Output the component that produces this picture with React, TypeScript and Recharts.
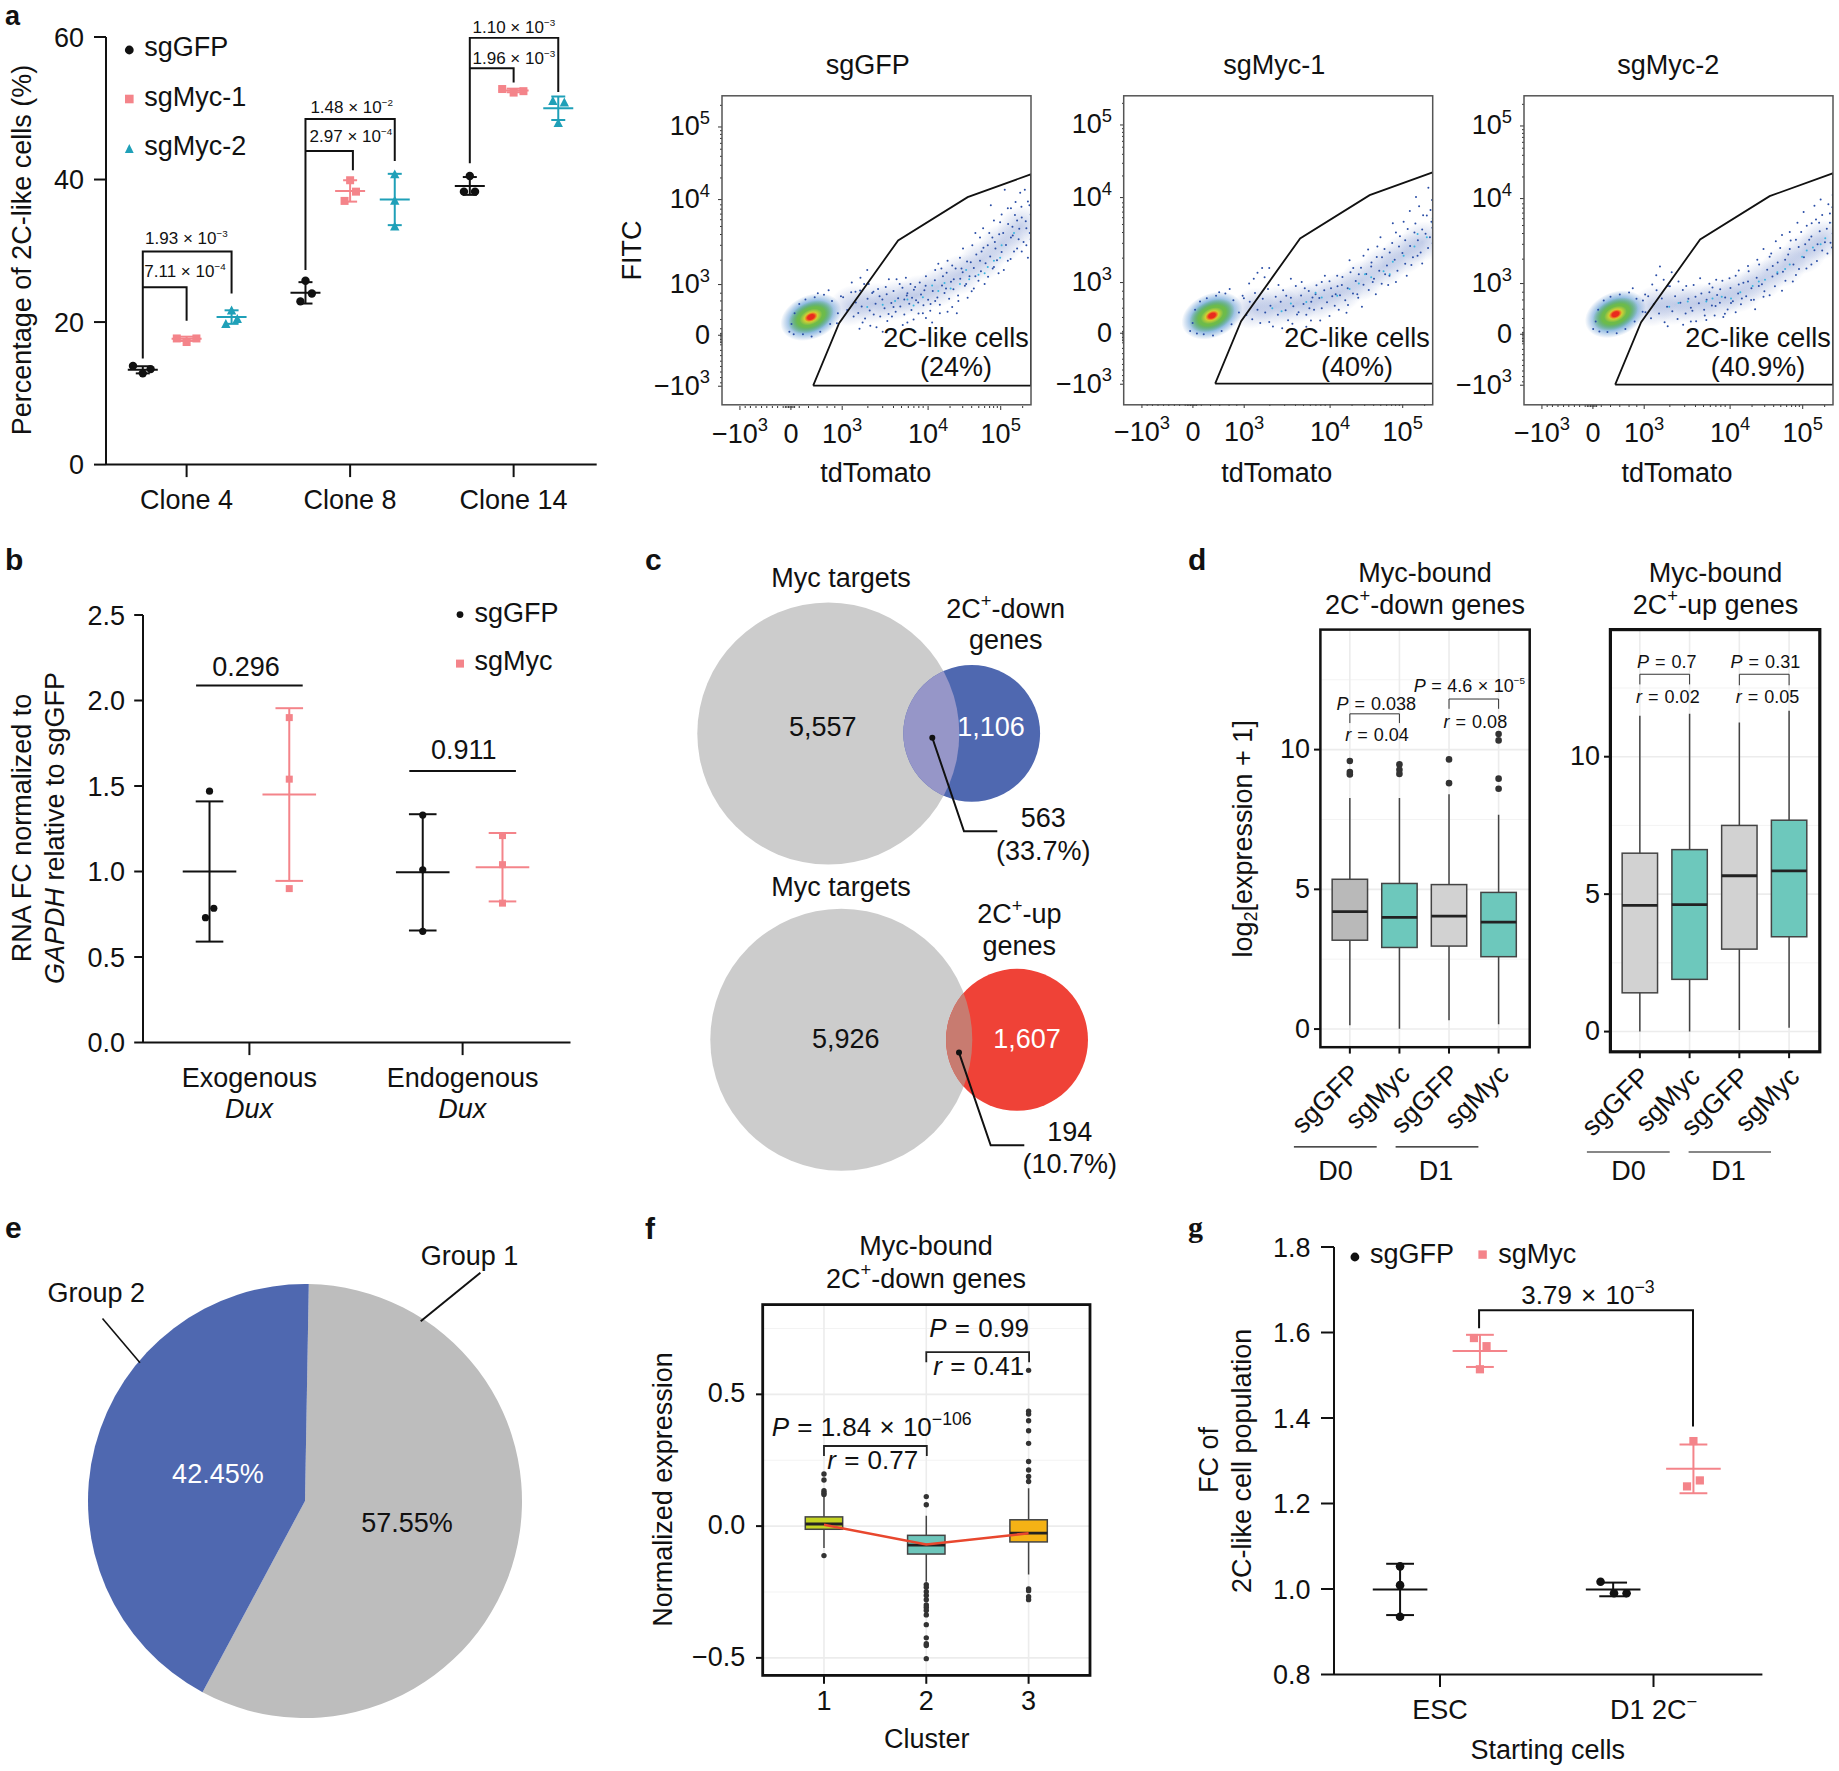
import React from 'react';
import { ScatterChart, Scatter, XAxis, YAxis, ErrorBar, CartesianGrid, PieChart, Pie, Cell } from 'recharts';

const FONT = '"Liberation Sans", Arial, sans-serif';
const INK = '#111';
const SALMON = '#f4848a';
const TEAL = '#1fa0b8';
const BOXTEAL = '#6dc8bc';
const FS = 27;

// ---------- panel a ----------
const cloneLabels = ['Clone 4', 'Clone 8', 'Clone 14'];
const aGfpPts = [[0.672,13.85],[0.78,13.4],[0.732,12.8],[1.727,25.8],[1.766,24.0],[1.696,22.9],[2.732,40.5],[2.696,38.3],[2.764,38.3]];
const aMyc1Pts = [[0.94,17.7],[1.06,17.7],[1.0,17.2],[2.0,39.9],[2.036,38.3],[1.966,37.0],[2.93,52.7],[3.0,52.2],[3.06,52.4]];
const aMyc2Pts = [[1.275,21.6],[1.31,20.4],[1.24,19.7],[2.273,40.7],[2.273,37.0],[2.273,33.4],[3.24,51],[3.31,50.8],[3.273,47.9]];
const aGfpMean = [[0.732,13.3,0.5],[1.727,24.1,1.5],[2.732,39.1,1.25]];
const aMyc1Mean = [[1,17.65,0.3],[2,38.4,1.5],[3,52.5,0.25]];
const aMyc2Mean = [[1.275,20.7,0.95],[2.273,37.2,3.6],[3.273,50,1.65]];
const aBrackets = [
  [[0.732,14.9],[0.732,29.9],[1.275,29.9],[1.275,24.0]],
  [[0.732,24.9],[1,24.9],[1,20.2]],
  [[1.727,27.3],[1.727,48.5],[2.273,48.5],[2.273,42.6]],
  [[1.727,44.0],[2.017,44.0],[2.017,41.3]],
  [[2.732,42.3],[2.732,59.9],[3.273,59.9],[3.273,52.3]],
  [[2.732,55.6],[3,55.6],[3,53.6]],
];

// ---------- panel b ----------
const bGroups = ['Exogenous', 'Endogenous'];
const bGfpPts = [[0.813,1.47],[0.833,0.785],[0.794,0.73],[1.813,1.33],[1.813,1.01],[1.813,0.65]];
const bMycPts = [[1.187,1.9],[1.187,1.54],[1.187,0.9],[2.187,1.21],[2.187,1.04],[2.187,0.815]];
const bGfpMean = [[0.813,1.0,0.41],[1.813,0.995,0.34]];
const bMycMean = [[1.187,1.45,0.505],[2.187,1.025,0.2]];
const bLines = [[[0.75,2.087],[1.25,2.087]],[[1.75,1.588],[2.25,1.588]]];

// ---------- panel g ----------
const gGfpPts = [[0.813,1.053],[0.813,1.009],[0.813,0.935],[1.752,1.017],[1.815,0.99],[1.874,0.99]];
const gMycPts = [[1.159,1.587],[1.218,1.568],[1.187,1.514],[2.187,1.346],[2.217,1.254],[2.157,1.24]];
const gGfpMean = [[0.813,0.999,0.06],[1.811,0.999,0.016]];
const gMycMean = [[1.187,1.557,0.0376],[2.187,1.281,0.057]];
const gBracket = [[1.183,1.61],[1.183,1.652],[2.185,1.652],[2.185,1.38]];

// ---------- panel f ----------
const fBoxes = [
  { x: 1, y: 0.008, q1: -0.012, q3: 0.035, lo: -0.083, hi: 0.11, fill: '#c4d322' },
  { x: 2, y: -0.072, q1: -0.106, q3: -0.035, lo: -0.211, hi: 0.039, fill: '#6dc6bb' },
  { x: 3, y: -0.027, q1: -0.06, q3: 0.024, lo: -0.184, hi: 0.144, fill: '#f5b215' },
];
const fOutliers = [[1,0.198],[1,0.175],[1,0.134],[1,0.127],[1,0.12],[1,-0.112],[2,0.112],[2,0.081],[2,-0.222],[2,-0.232],[2,-0.249],[2,-0.263],[2,-0.279],[2,-0.299],[2,-0.309],[2,-0.32],[2,-0.337],[2,-0.374],[2,-0.424],[2,-0.446],[2,-0.453],[2,-0.503],[3,0.591],[3,0.436],[3,0.425],[3,0.4],[3,0.362],[3,0.314],[3,0.245],[3,0.213],[3,0.188],[3,0.169],[3,-0.238],[3,-0.245],[3,-0.268],[3,-0.279]];
const fTrend = [[1,0.005],[2,-0.07],[3,-0.027]];
const fBrackets = [[[1,0.266],[1,0.304],[2.005,0.304],[2.005,0.266]],[[2,0.622],[2,0.66],[3.005,0.66],[3.005,0.622]]];

// ---------- panel d ----------
const dCats = ['sgGFP', 'sgMyc', 'sgGFP', 'sgMyc'];
const dDownBoxes = [
  { x: 1, y: 4.2, q1: 3.18, q3: 5.36, lo: 0.14, hi: 8.27, fill: '#b9b9b9' },
  { x: 2, y: 4.0, q1: 2.92, q3: 5.21, lo: 0.015, hi: 8.27, fill: BOXTEAL },
  { x: 3, y: 4.04, q1: 2.97, q3: 5.17, lo: 0.32, hi: 8.4, fill: '#d2d2d2' },
  { x: 4, y: 3.83, q1: 2.59, q3: 4.89, lo: 0.17, hi: 7.67, fill: BOXTEAL },
];
const dDownOut = [[1,9.59],[1,9.2],[1,9.11],[2,9.47],[2,9.28],[2,9.13],[3,9.65],[3,8.8],[4,10.56],[4,10.33],[4,8.96],[4,8.6]];
const dDownBr = [[[1,10.95],[1,11.28],[2,11.28],[2,10.95]],[[3,11.46],[3,11.81],[4,11.81],[4,11.46]]];
const dUpBoxes = [
  { x: 1, y: 4.59, q1: 1.41, q3: 6.49, lo: 0, hi: 11.49, fill: '#d2d2d2' },
  { x: 2, y: 4.62, q1: 1.9, q3: 6.62, lo: 0, hi: 11.56, fill: BOXTEAL },
  { x: 3, y: 5.67, q1: 3.0, q3: 7.5, lo: 0.06, hi: 11.24, fill: '#d2d2d2' },
  { x: 4, y: 5.85, q1: 3.45, q3: 7.69, lo: 0.14, hi: 11.67, fill: BOXTEAL },
];
const dUpBr = [[[1,12.63],[1,13],[2,13],[2,12.63]],[[3,12.6],[3,13],[4,13],[4,12.6]]];

// ---------- panel c ----------
const vennDown = [{ x: 188.3, y: 193.6, r: 131 }, { x: 331.7, y: 193.4, r: 68.4 }];
const vennUp = [{ x: 201.3, y: 499.8, r: 131 }, { x: 377, y: 499.8, r: 71 }];
const vennLeaders = [[[292.3,197.8],[324,291.2],[357.3,291.2]],[[319,512.6],[350.7,605.2],[384.3,605.2]]];

// ---------- panel e ----------
const pieData = [{ name: 'Group 1', value: 57.55 }, { name: 'Group 2', value: 42.45 }];
const pieColors = ['#bdbdbd', '#4f68b0'];

// ---------- flow plots ----------
const flowXMajor = [58, 223, 389, 667, 902];
const flowYMajor = [64, 229, 393, 668, 903];
const flowMajorLabels = ['3', '0', '3', '4', '5'];
const flowMinor = [75,92,110,128,145,163,180,198,205,210,215,220,226,230,235,250,280,310,340,365,472,520,555,581,603,621,637,651,738,779,808,831,850,866,879,891,973];
const flowGate = [[295,66],[379,268],[570,536],[795,676],[1000,750],[1000,66],[295,66]];

const flow1Dark = [[392,352],[405,311],[418,368],[426,290],[433,335],[441,301],[447,374],[452,322],[463,283],[471,347],[478,309],[486,366],[491,296],[497,331],[505,379],[512,290],[519,345],[526,316],[533,362],[539,298],[548,333],[555,372],[562,305],[570,349],[577,322],[584,383],[590,296],[598,358],[606,331],[613,311],[621,376],[628,342],[636,299],[644,361],[652,326],[659,389],[667,344],[674,308],[682,372],[689,407],[697,351],[705,328],[712,390],[720,366],[727,431],[735,347],[741,402],[749,378],[756,445],[764,358],[771,412],[779,433],[786,389],[793,468],[801,420],[808,371],[815,447],[823,490],[830,405],[838,436],[846,512],[853,462],[861,418],[868,484],[876,445],[883,531],[890,472],[897,556],[905,498],[912,440],[919,521],[926,589],[934,476],[941,552],[948,618],[955,510],[962,574],[969,645],[976,531],[983,598],[990,662],[996,560],[999,620],[999,540],[420,400],[432,370],[448,415],[460,395],[470,440],[225,265],[218,240],[235,300],[232,232],[250,330],[262,232],[270,345],[290,225],[300,352],[318,240],[330,360],[350,265],[356,340],[375,300],[385,355],[345,375],[310,365],[372,268],
[610,395],[455,270],[820,560],[705,300],[935,640],[540,410],[880,600],[660,285],[780,510],[500,255],[965,690],[745,320],[600,270],[850,395],[915,700],[475,395],[690,440],[795,350],[990,480],[565,410],[835,545],[730,470],[640,400],[905,620],[520,240],[760,300],[970,500],[680,270],[815,380],[585,262],[950,660],[445,250],[710,445],[870,650],[625,385],[985,575],[770,480],[550,290],[895,430],[660,420],[925,470],[490,370],[840,500],[730,305],[980,700],[595,415],[865,560],[700,460],[955,600],[535,275],[810,520],[650,300],[910,560],[765,340],[480,260],[945,500],[620,280],[885,510],[745,455],[575,395],[995,650],[835,470],[675,330],[925,640],[510,355],[790,395],[860,520],[600,365],[960,540],[715,420],[880,450],[635,335],[970,610],[555,320],[820,420],[750,410],[900,595],[690,340],[845,575],[530,385],[985,520],[775,445],[615,350],[940,580],[725,380],[655,375],[875,545],[805,465],[590,345],[935,545]];
const flow1Cyan = [[520,328],[600,345],[650,352],[700,372],[740,380],[770,395],[800,410],[830,425],[860,450],[880,470],[905,520],[945,560],[470,320],[560,340],[620,325],[680,390],[720,398],[790,440],[850,430],[900,480]];
const flow1Haze = [[420,325],[490,332],[560,342],[630,358],[700,385],[770,425],[840,470],[905,525],[965,580]];
const flow1Blob = [288, 288];

const flow2Dark = [[388,342],[396,288],[407,331],[415,274],[424,359],[432,305],[441,262],[449,341],[457,296],[466,372],[474,318],[482,251],[491,347],[498,289],[507,331],[515,368],[523,303],[531,271],[540,344],[548,316],[556,382],[565,297],[573,351],[581,324],[590,289],[598,366],[606,331],[615,305],[623,384],[632,343],[640,310],[648,368],[657,329],[665,397],[674,349],[682,318],[691,381],[699,352],[707,411],[716,336],[724,375],[733,426],[741,358],[750,398],[758,344],[767,441],[775,386],[784,421],[792,369],[801,458],[809,405],[818,476],[826,431],[834,389],[843,502],[851,448],[859,415],[868,521],[876,467],[885,431],[893,543],[901,489],[910,454],[918,566],[926,511],[935,475],[943,584],[951,530],[960,490],[968,611],[976,551],[984,505],[992,628],[998,570],[999,520],[997,660],[420,405],[432,425],[447,440],[405,390],[455,410],[470,440],[222,262],[214,236],[230,305],[236,228],[246,332],[258,226],[268,342],[288,222],[298,350],[316,236],[328,358],[348,258],[354,336],[372,296],[384,350],[342,372],[308,362],
[605,270],[742,440],[880,395],[512,245],[965,455],[690,415],[830,540],[575,395],[925,625],[770,315],[470,265],[995,590],[640,395],[855,385],[720,295],[540,405],[905,590],[790,500],[610,345],[945,670],[665,285],[815,355],[985,700],[500,385],[730,465],[870,585],[590,250],[950,480],[685,355],[835,475],[560,290],[915,415],[755,355],[635,270],[890,510],[980,610],[705,385],[800,445],[525,350],[860,490],[650,415],[940,555],[775,480],[585,375],[910,530],[725,320],[845,420],[620,355],[965,565],[695,305],[820,510],[545,260],[990,540],[760,420],[880,555],[670,375],[930,450],[805,395],[600,310],[955,640]];
const flow2Cyan = [[480,310],[540,325],[590,330],[640,345],[690,350],[730,372],[760,390],[800,410],[840,430],[870,460],[905,480],[940,510],[980,540],[999,585],[999,600],[510,300],[620,360],[780,420],[860,420],[950,550]];
const flow2Haze = [[420,310],[490,315],[560,325],[630,338],[700,362],[770,400],[840,445],[905,485],[965,525]];
const flow2Blob = [285, 286];

const flow3Dark = [[385,338],[393,300],[402,352],[411,281],[420,326],[429,371],[437,296],[446,345],[455,268],[463,318],[472,384],[480,303],[489,352],[497,278],[506,331],[514,372],[523,296],[532,344],[540,315],[549,388],[557,271],[566,329],[574,361],[583,308],[591,341],[600,392],[608,322],[617,290],[625,356],[634,331],[642,402],[651,348],[659,309],[668,379],[676,336],[685,418],[693,361],[702,326],[710,396],[719,352],[727,433],[736,378],[744,341],[753,412],[761,455],[770,391],[778,368],[787,438],[795,480],[804,416],[812,384],[821,461],[829,508],[838,431],[846,402],[855,487],[863,532],[872,455],[880,421],[889,511],[897,560],[906,478],[914,442],[923,535],[931,588],[940,501],[948,466],[957,562],[965,615],[974,527],[982,490],[990,590],[998,640],[999,555],[997,510],[999,680],[415,390],[428,420],[440,448],[452,405],[466,385],[478,430],[232,270],[224,246],[240,308],[244,238],[258,338],[270,236],[280,350],[300,232],[310,358],[328,246],[340,364],[358,270],[364,344],[384,302],[392,358],[352,378],
[622,405],[748,310],[885,590],[515,260],[960,665],[695,435],[835,370],[570,410],[930,455],[775,505],[465,255],[992,525],[645,285],[860,560],[725,450],[540,270],[905,625],[795,355],[610,380],[945,600],[665,410],[815,530],[985,650],[500,400],[735,340],[870,400],[590,275],[950,520],[685,300],[835,550],[555,350],[915,580],[755,470],[635,375],[890,440],[980,570],[705,345],[800,490],[525,385],[860,505],[650,295],[940,645],[775,350],[585,290],[910,520],[725,400],[845,470],[620,320],[965,500],[695,390],[820,425],[545,305],[990,620],[760,385],[880,535],[670,330],[930,545],[805,450],[600,365],[955,590]];
const flow3Cyan = [[470,318],[530,335],[590,335],[640,350],[700,365],[740,385],[780,405],[820,430],[860,455],[900,480],[935,510],[975,540],[999,590],[500,330],[610,345],[670,345],[760,400],[845,440],[915,500],[960,520]];
const flow3Haze = [[420,320],[490,325],[560,328],[630,342],[700,366],[770,405],[840,448],[905,490],[965,535]];
const flow3Blob = [296, 294];

// ---------- helpers ----------
const pts = (a: number[][]) => a.map(([x, y]) => ({ x, y }));
const means = (a: number[][]) => a.map(([x, y, e]) => ({ x, y, e }));
const NoDot = () => null;

const Circ = (r: number, fill: string) => (p: any) => <circle cx={p.cx} cy={p.cy} r={r} fill={fill} />;
const Sq = (s: number, fill: string) => (p: any) => <rect x={p.cx - s / 2} y={p.cy - s / 2} width={s} height={s} fill={fill} />;
const Tri = (s: number, fill: string) => (p: any) => (
  <path d={`M${p.cx} ${p.cy - s * 0.6}L${p.cx + s * 0.55} ${p.cy + s * 0.45}L${p.cx - s * 0.55} ${p.cy + s * 0.45}Z`} fill={fill} />
);
const HLine = (hw: number, color: string, sw = 2) => (p: any) => (
  <line x1={p.cx - hw} x2={p.cx + hw} y1={p.cy} y2={p.cy} stroke={color} strokeWidth={sw} />
);
const Poly = (key: string, a: number[][], color = INK, sw = 2) => (
  <Scatter key={key} data={pts(a)} shape={NoDot as any} line={{ stroke: color, strokeWidth: sw }} isAnimationActive={false} legendType="none" />
);
const MeanBar = (key: string, a: number[][], color: string, hw: number, cap: number, sw = 2) => (
  <Scatter key={key} data={means(a)} shape={HLine(hw, color, sw) as any} isAnimationActive={false} legendType="none">
    <ErrorBar dataKey="e" direction="y" width={cap} stroke={color} strokeWidth={sw} isAnimationActive={false} />
  </Scatter>
);

const xTick = (label: (v: number) => any, len: number, off: number, size = FS, sw = 2) => (p: any) => (
  <g>
    <line x1={p.x} x2={p.x} y1={p.y} y2={p.y + len} stroke={INK} strokeWidth={sw} />
    <text x={p.x} y={p.y + off} textAnchor="middle" fontSize={size} fontFamily={FONT} fill={INK}>{label(p.payload.value)}</text>
  </g>
);
const yTick = (label: (v: number) => any, len: number, gap: number, adj = 0, size = FS, sw = 2) => (p: any) => (
  <g>
    <line x1={p.x} x2={p.x - len} y1={p.y} y2={p.y} stroke={INK} strokeWidth={sw} />
    <text x={p.x - gap} y={p.y + size * 0.36 + adj} textAnchor="end" fontSize={size} fontFamily={FONT} fill={INK}>{label(p.payload.value)}</text>
  </g>
);

function plot(o: any) {
  const padL = 100, padT = 30, padR = 30, padB = o.padB ?? 80;
  const axis = o.axis ? { stroke: INK, strokeWidth: o.axis } : false;
  return (
    <div style={{ position: 'absolute', left: o.l - padL, top: o.t - padT }}>
      <ScatterChart width={o.r - o.l + padL + padR} height={o.b - o.t + padT + padB} margin={{ top: padT, right: padR, left: 0, bottom: 0 }}>
        <XAxis type="number" dataKey="x" domain={o.xd} ticks={o.xt} tick={o.xtick} tickLine={false} tickSize={0} tickMargin={0} axisLine={axis as any} height={padB} interval={0} allowDataOverflow />
        <YAxis type="number" dataKey="y" domain={o.yd} ticks={o.yt} tick={o.ytick} tickLine={false} tickSize={0} tickMargin={0} axisLine={axis as any} width={padL} interval={0} allowDataOverflow />
        {o.children}
      </ScatterChart>
    </div>
  );
}

const T = ({ x, y, a = 'start', s = FS, c = INK, i, b, rot, ws, f, children }: any) => (
  <text x={x} y={y} textAnchor={a} fontSize={s} fill={c} fontStyle={i ? 'italic' : undefined} fontWeight={b ? 700 : undefined}
    fontFamily={f ?? FONT} transform={rot ? `rotate(-90 ${x} ${y})` : undefined} style={ws != null ? { wordSpacing: ws } : undefined}>{children}</text>
);
const Sup = ({ t, s, k = 0.68, after }: any) => (
  <>
    <tspan dy={-s * 0.42} fontSize={s * k}>{t}</tspan>
    {after != null && <tspan dy={s * 0.42} fontSize={s}>{after}</tspan>}
  </>
);
const Pv = ({ x, y, m, e, s = 17, ws = 0 }: any) => (
  <T x={x} y={y} s={s} ws={ws}>{m} × 10<Sup t={e} s={s} k={0.58} /></T>
);

// box shape: position comes from the y scale (median); heights follow the plot's pixels-per-unit
const BoxShape = (ppu: number, hw: number, stroke = '#444') => (p: any) => {
  const d = p.payload;
  const Y = (v: number) => p.cy - (v - d.y) * ppu;
  return (
    <g>
      <line x1={p.cx} x2={p.cx} y1={Y(d.hi)} y2={Y(d.lo)} stroke={stroke} strokeWidth={1.5} />
      <rect x={p.cx - hw} width={hw * 2} y={Y(d.q3)} height={Y(d.q1) - Y(d.q3)} fill={d.fill} stroke={stroke} strokeWidth={1.5} />
      <line x1={p.cx - hw} x2={p.cx + hw} y1={p.cy} y2={p.cy} stroke="#222" strokeWidth={2.8} />
    </g>
  );
};

const Grid = (h1: number[], h2: number[], v: number[]) => [
  <CartesianGrid key="g2" horizontalValues={h2} vertical={false} stroke="#f3f3f3" strokeWidth={1} />,
  <CartesianGrid key="g1" horizontalValues={h1} verticalValues={v} stroke="#ececec" strokeWidth={1.6} />,
];

const ellipse = (rx: number, ry: number, fill: string) => (p: any) => (
  <ellipse cx={p.cx} cy={p.cy} rx={rx} ry={ry} fill={fill} transform={`rotate(-24 ${p.cx} ${p.cy})`} />
);

const flowLabel = (i: number) => {
  if (i === 1) return '0';
  return <>{i === 0 ? '\u221210' : '10'}<Sup t={flowMajorLabels[i]} s={FS} /></>;
};
const flowXTick = (p: any) => {
  const i = flowXMajor.indexOf(p.payload.value);
  return (
    <g>
      <line x1={p.x} x2={p.x} y1={p.y} y2={p.y + (i >= 0 ? 4 : 2)} stroke="#333" strokeWidth={1} />
      {i >= 0 && <text x={p.x} y={p.y + 36.5} textAnchor="middle" fontSize={FS} fontFamily={FONT} fill={INK}>{flowLabel(i)}</text>}
    </g>
  );
};
const flowYTick = (p: any) => {
  const i = flowYMajor.indexOf(p.payload.value);
  return (
    <g>
      <line x1={p.x} x2={p.x - (i >= 0 ? 4 : 2)} y1={p.y} y2={p.y} stroke="#333" strokeWidth={1} />
      {i >= 0 && <text x={p.x - 12} y={p.y + 8.5} textAnchor="end" fontSize={FS} fontFamily={FONT} fill={INK}>{flowLabel(i)}</text>}
    </g>
  );
};

const flowPlot = (l: number, t: number, dark: number[][], cyan: number[][], haze: number[][], blob: number[]) =>
  plot({
    l, t, r: l + 309, b: t + 309, xd: [0, 1000], yd: [0, 1000],
    xt: [...flowXMajor, ...flowMinor], yt: [...flowYMajor, ...flowMinor],
    xtick: flowXTick, ytick: flowYTick,
    children: [
      <Scatter key="haze" data={pts(haze)} shape={ellipse(24, 20, 'url(#gHaze)') as any} isAnimationActive={false} />,
      <Scatter key="b1" data={pts([blob])} shape={ellipse(32, 22, 'url(#gBlue)') as any} isAnimationActive={false} />,
      <Scatter key="b2" data={pts([blob])} shape={ellipse(24, 15, 'url(#gGreen)') as any} isAnimationActive={false} />,
      <Scatter key="b3" data={pts([blob])} shape={ellipse(12, 7.5, 'url(#gYellow)') as any} isAnimationActive={false} />,
      <Scatter key="b4" data={pts([blob])} shape={ellipse(7, 4.5, 'url(#gRed)') as any} isAnimationActive={false} />,
      <Scatter key="dk" data={pts(dark)} shape={Circ(1, '#2a4ea6') as any} isAnimationActive={false} />,
      <Scatter key="cy" data={pts(cyan)} shape={Circ(1, '#37b4e0') as any} isAnimationActive={false} />,
      Poly('gate', flowGate, '#111', 1.8),
    ],
  });

const vennCircle = (fill: string) => (p: any) => <circle cx={p.cx} cy={p.cy} r={p.payload.r} fill={fill} />;
const vennLens = (id: string, fill: string, big: any) => (p: any) => (
  <g>
    <defs><clipPath id={id}><circle cx={p.cx - (p.payload.x - big.x)} cy={p.cy - (p.payload.y - big.y)} r={big.r} /></clipPath></defs>
    <circle cx={p.cx} cy={p.cy} r={p.payload.r} fill={fill} clipPath={`url(#${id})`} />
  </g>
);

const dXTick = (off: number) => (p: any) => (
  <g>
    <line x1={p.x} x2={p.x} y1={p.y} y2={p.y + 6} stroke={INK} strokeWidth={2} />
    <text x={p.x + 12} y={p.y + off} textAnchor="end" fontSize={FS} fontFamily={FONT} fill={INK} transform={`rotate(-45 ${p.x + 12} ${p.y + off})`}>{dCats[p.payload.value - 1]}</text>
  </g>
);

export default function App() {
  const flowLabels = (l: number, title: string, pct: string, tCx: number, tdCx: number, lblCx: number) => (
    <g>
      <T x={tCx} y={74.3} a="middle">{title}</T>
      <T x={tdCx} y={481.7} a="middle">tdTomato</T>
      <T x={lblCx} y={347.3} a="middle">2C-like cells</T>
      <T x={lblCx} y={375.7} a="middle">{pct}</T>
      <rect x={l} y={95.8} width={309} height={309} fill="none" stroke="#555" strokeWidth={1.5} />
    </g>
  );
  return (
    <div style={{ position: 'absolute', left: 0, top: 0, width: 1839, height: 1771, background: '#fff', overflow: 'hidden' }}>
      <svg width={0} height={0} style={{ position: 'absolute' }}>
        <defs>
          <radialGradient id="gHaze"><stop offset="0%" stopColor="#3a5db5" stopOpacity={0.3} /><stop offset="100%" stopColor="#3a5db5" stopOpacity={0} /></radialGradient>
          <radialGradient id="gBlue"><stop offset="45%" stopColor="#2f8fd0" stopOpacity={0.9} /><stop offset="100%" stopColor="#2f6fc0" stopOpacity={0} /></radialGradient>
          <radialGradient id="gGreen"><stop offset="60%" stopColor="#6dbb4a" stopOpacity={1} /><stop offset="100%" stopColor="#6dbb4a" stopOpacity={0} /></radialGradient>
          <radialGradient id="gYellow"><stop offset="45%" stopColor="#ecd62e" stopOpacity={1} /><stop offset="100%" stopColor="#ecd62e" stopOpacity={0} /></radialGradient>
          <radialGradient id="gRed"><stop offset="50%" stopColor="#ea2a1e" stopOpacity={1} /><stop offset="100%" stopColor="#ea2a1e" stopOpacity={0} /></radialGradient>
        </defs>
      </svg>

      {/* panel a */}
      {plot({
        l: 105.6, t: 37.2, r: 596.3, b: 464.8, xd: [0.507, 3.508], yd: [0, 60], xt: [1, 2, 3], yt: [0, 20, 40, 60], axis: 2,
        xtick: xTick((v) => cloneLabels[v - 1], 12.5, 44), ytick: yTick((v) => v, 12, 22),
        children: [
          ...aBrackets.map((b, i) => Poly('br' + i, b, INK, 2)),
          MeanBar('m1', aGfpMean, '#111', 15, 7),
          MeanBar('m2', aMyc1Mean, SALMON, 15, 7),
          MeanBar('m3', aMyc2Mean, TEAL, 15, 7),
          <Scatter key="p1" data={pts(aGfpPts)} shape={Circ(4.2, '#111') as any} isAnimationActive={false} />,
          <Scatter key="p2" data={pts(aMyc1Pts)} shape={Sq(8, SALMON) as any} isAnimationActive={false} />,
          <Scatter key="p3" data={pts(aMyc2Pts)} shape={Tri(8.5, TEAL) as any} isAnimationActive={false} />,
        ],
      })}

      {/* panel b */}
      {plot({
        l: 142.7, t: 615, r: 570.2, b: 1042.5, xd: [0.501, 2.506], yd: [0, 2.5], xt: [1, 2], yt: [0, 0.5, 1, 1.5, 2, 2.5], axis: 2,
        xtick: xTick((v) => bGroups[v - 1], 12.6, 44), ytick: yTick((v) => v.toFixed(1), 8.8, 18),
        children: [
          ...bLines.map((b, i) => Poly('bl' + i, b, INK, 2)),
          MeanBar('m1', bGfpMean, '#111', 26.8, 13.8),
          MeanBar('m2', bMycMean, SALMON, 26.8, 13.8),
          <Scatter key="p1" data={pts(bGfpPts)} shape={Circ(3.6, '#111') as any} isAnimationActive={false} />,
          <Scatter key="p2" data={pts(bMycPts)} shape={Sq(7, SALMON) as any} isAnimationActive={false} />,
        ],
      })}

      {/* panel g */}
      {plot({
        l: 1333.8, t: 1246.8, r: 1762.2, b: 1674.3, xd: [0.5035, 2.51], yd: [0.8, 1.8], xt: [1, 2], yt: [0.8, 1, 1.2, 1.4, 1.6, 1.8], axis: 2,
        xtick: xTick((v) => (v === 1 ? 'ESC' : <>D1 2C<Sup t={'\u2212'} s={FS} /></>), 12.5, 44.7), ytick: yTick((v) => v.toFixed(1), 13, 23.5),
        children: [
          Poly('br', gBracket, INK, 2),
          MeanBar('m1', gGfpMean, '#111', 27.3, 13.9),
          MeanBar('m2', gMycMean, SALMON, 27.3, 13.9),
          <Scatter key="p1" data={pts(gGfpPts)} shape={Circ(4.3, '#111') as any} isAnimationActive={false} />,
          <Scatter key="p2" data={pts(gMycPts)} shape={Sq(8.2, SALMON) as any} isAnimationActive={false} />,
        ],
      })}

      {/* panel f */}
      {plot({
        l: 762.7, t: 1304.6, r: 1090, b: 1675.4, xd: [0.404, 3.603], yd: [-0.568, 0.839], xt: [1, 2, 3], yt: [-0.5, 0, 0.5],
        xtick: xTick((v) => v, 8, 34.6), ytick: yTick((v) => (v < 0 ? '\u2212' + Math.abs(v).toFixed(1) : v.toFixed(1)), 7, 17.7, -1.6),
        children: [
          ...Grid([-0.5, 0, 0.5], [-0.25, 0.25, 0.75], [1, 2, 3]),
          <Scatter key="ou" data={pts(fOutliers)} shape={Circ(2.7, '#333') as any} isAnimationActive={false} />,
          <Scatter key="bx" data={fBoxes} shape={BoxShape(263.5, 18.7) as any} isAnimationActive={false} />,
          Poly('tr', fTrend, '#e8472e', 2.5),
          ...fBrackets.map((b, i) => Poly('br' + i, b, '#222', 1.8)),
        ],
      })}

      {/* panel d left */}
      {plot({
        l: 1320.4, t: 629.6, r: 1529.7, b: 1047.2, padB: 110, xd: [0.398, 4.619], yd: [-0.663, 14.28], xt: [1, 2, 3, 4], yt: [0, 5, 10],
        xtick: dXTick(28), ytick: yTick((v) => v, 6, 10, -1.2),
        children: [
          ...Grid([0, 5, 10], [2.5, 7.5, 12.5], [1, 2, 3, 4]),
          <Scatter key="ou" data={pts(dDownOut)} shape={Circ(3.3, '#333') as any} isAnimationActive={false} />,
          <Scatter key="bx" data={dDownBoxes} shape={BoxShape(27.95, 17.7) as any} isAnimationActive={false} />,
          ...dDownBr.map((b, i) => Poly('br' + i, b, '#333', 1)),
        ],
      })}

      {/* panel d right */}
      {plot({
        l: 1610.4, t: 629.6, r: 1819.8, b: 1051.8, padB: 110, xd: [0.4, 4.609], yd: [-0.75, 14.61], xt: [1, 2, 3, 4], yt: [0, 5, 10],
        xtick: dXTick(26), ytick: yTick((v) => v, 6, 10, -1.2),
        children: [
          ...Grid([0, 5, 10], [2.5, 7.5, 12.5], [1, 2, 3, 4]),
          <Scatter key="bx" data={dUpBoxes} shape={BoxShape(27.49, 17.7) as any} isAnimationActive={false} />,
          ...dUpBr.map((b, i) => Poly('br' + i, b, '#333', 1)),
        ],
      })}

      {/* flow plots */}
      {flowPlot(722, 96.7, flow1Dark, flow1Cyan, flow1Haze, flow1Blob)}
      {flowPlot(1123.7, 95, flow2Dark, flow2Cyan, flow2Haze, flow2Blob)}
      {flowPlot(1524, 96, flow3Dark, flow3Cyan, flow3Haze, flow3Blob)}

      {/* panel c */}
      <div style={{ position: 'absolute', left: 640, top: 540 }}>
        <ScatterChart width={500} height={660} margin={{ top: 0, right: 0, left: 0, bottom: 0 }}>
          <XAxis type="number" dataKey="x" domain={[0, 500]} hide />
          <YAxis type="number" dataKey="y" domain={[0, 660]} reversed hide />
          <Scatter data={[vennDown[0]]} shape={vennCircle('#cccccc') as any} isAnimationActive={false} />
          <Scatter data={[vennDown[1]]} shape={vennCircle('#4f68b0') as any} isAnimationActive={false} />
          <Scatter data={[vennDown[1]]} shape={vennLens('lensA', '#9696c8', vennDown[0]) as any} isAnimationActive={false} />
          <Scatter data={[vennUp[0]]} shape={vennCircle('#cccccc') as any} isAnimationActive={false} />
          <Scatter data={[vennUp[1]]} shape={vennCircle('#ef4237') as any} isAnimationActive={false} />
          <Scatter data={[vennUp[1]]} shape={vennLens('lensB', '#c87b70', vennUp[0]) as any} isAnimationActive={false} />
          {vennLeaders.map((l, i) => Poly('vl' + i, l, '#111', 2))}
          <Scatter data={pts([vennLeaders[0][0], vennLeaders[1][0]])} shape={Circ(3, '#111') as any} isAnimationActive={false} />
        </ScatterChart>
      </div>

      {/* panel e */}
      <div style={{ position: 'absolute', left: 74.6, top: 1270.8 }}>
        <PieChart width={460} height={460} margin={{ top: 0, right: 0, left: 0, bottom: 0 }}>
          <Pie data={pieData} dataKey="value" cx={230} cy={230} innerRadius={0} outerRadius={217} startAngle={89} endAngle={-271} stroke="none" isAnimationActive={false} legendType="none">
            {pieData.map((d, i) => <Cell key={d.name} fill={pieColors[i]} />)}
          </Pie>
        </PieChart>
      </div>

      {/* text and frames */}
      <svg width={1839} height={1771} style={{ position: 'absolute', left: 0, top: 0, pointerEvents: 'none' }}>
        {/* panel letters */}
        <T x={5} y={24.5} s={27} b>a</T>
        <T x={5} y={570} s={30} b>b</T>
        <T x={645} y={570} s={30} b>c</T>
        <T x={1188} y={569.5} s={30} b>d</T>
        <T x={5} y={1238} s={30} b>e</T>
        <T x={645} y={1238.6} s={30} b>f</T>
        <T x={1188} y={1237} s={30} b f='"Liberation Serif", serif'>g</T>

        {/* a */}
        <T x={30.8} y={250} a="middle" rot>Percentage of 2C-like cells (%)</T>
        <circle cx={129.3} cy={50} r={4.4} fill="#111" />
        <rect x={125} y={94.7} width={8.6} height={8.6} fill={SALMON} />
        <path d="M129.3 144l4.4 9h-8.8z" fill={TEAL} />
        <T x={144.3} y={55.8}>sgGFP</T>
        <T x={144.3} y={105.8}>sgMyc-1</T>
        <T x={144.3} y={154.5}>sgMyc-2</T>
        <Pv x={145.1} y={244} m="1.93" e={'\u22123'} />
        <Pv x={144.3} y={277.2} m="7.11" e={'\u22124'} />
        <Pv x={310.4} y={113.2} m="1.48" e={'\u22122'} />
        <Pv x={309.6} y={142} m="2.97" e={'\u22124'} />
        <Pv x={472.5} y={33} m="1.10" e={'\u22123'} />
        <Pv x={472.5} y={64.2} m="1.96" e={'\u22123'} />

        {/* flow */}
        <T x={640.7} y={250.5} a="middle" rot>FITC</T>
        {flowLabels(722, 'sgGFP', '(24%)', 867.7, 875.7, 956)}
        {flowLabels(1123.7, 'sgMyc-1', '(40%)', 1274.3, 1276.7, 1357)}
        {flowLabels(1524, 'sgMyc-2', '(40.9%)', 1668.3, 1677, 1758)}

        {/* b */}
        <T x={31.4} y={828} a="middle" rot>RNA FC normalized to</T>
        <T x={64.3} y={828} a="middle" rot><tspan fontStyle="italic">GAPDH</tspan> relative to sgGFP</T>
        <T x={246} y={675.5} a="middle">0.296</T>
        <T x={463.8} y={759} a="middle">0.911</T>
        <circle cx={460} cy={614.6} r={3.4} fill="#111" />
        <rect x={456} y={659.6} width={8} height={8} fill={SALMON} />
        <T x={474.6} y={621.5}>sgGFP</T>
        <T x={474.6} y={670}>sgMyc</T>
        <T x={249.1} y={1118} a="middle" i>Dux</T>
        <T x={462.3} y={1118} a="middle" i>Dux</T>

        {/* c */}
        <T x={841} y={587} a="middle">Myc targets</T>
        <T x={1005.7} y={617.9} a="middle">2C<Sup t="+" s={FS} after="-down" /></T>
        <T x={1005.7} y={649.4} a="middle">genes</T>
        <T x={822.7} y={736} a="middle">5,557</T>
        <T x={991} y={736} a="middle" c="#fff">1,106</T>
        <T x={1043.3} y={827} a="middle">563</T>
        <T x={1043.3} y={859.9} a="middle">(33.7%)</T>
        <T x={841} y={896} a="middle">Myc targets</T>
        <T x={1019.3} y={923} a="middle">2C<Sup t="+" s={FS} after="-up" /></T>
        <T x={1019.3} y={954.6} a="middle">genes</T>
        <T x={845.7} y={1048.4} a="middle">5,926</T>
        <T x={1027} y={1048.4} a="middle" c="#fff">1,607</T>
        <T x={1069.7} y={1140.6} a="middle">194</T>
        <T x={1069.7} y={1173.4} a="middle">(10.7%)</T>

        {/* d */}
        <T x={1425} y={582} a="middle">Myc-bound</T>
        <T x={1425} y={613.7} a="middle">2C<Sup t="+" s={FS} after="-down genes" /></T>
        <T x={1715.5} y={582} a="middle">Myc-bound</T>
        <T x={1715.5} y={613.7} a="middle">2C<Sup t="+" s={FS} after="-up genes" /></T>
        <T x={1252.3} y={838.8} a="middle" rot>log<tspan dy={5} fontSize={18}>2</tspan><tspan dy={-5}>[expression + 1]</tspan></T>
        <rect x={1320.4} y={629.6} width={209.3} height={417.6} fill="none" stroke="#111" strokeWidth={2.5} />
        <rect x={1610.4} y={629.6} width={209.4} height={422.2} fill="none" stroke="#111" strokeWidth={3.2} />
        <T x={1336.4} y={709.6} s={18} ws={1}><tspan fontStyle="italic">P</tspan> = 0.038</T>
        <T x={1345.2} y={740.8} s={18} ws={1}><tspan fontStyle="italic">r</tspan> = 0.04</T>
        <T x={1413.7} y={691.5} s={18} ws={0.5}><tspan fontStyle="italic">P</tspan> = 4.6 × 10<Sup t={'\u22125'} s={18} k={0.55} /></T>
        <T x={1443.6} y={727.7} s={18} ws={1}><tspan fontStyle="italic">r</tspan> = 0.08</T>
        <T x={1636.9} y={667.5} s={18} ws={1}><tspan fontStyle="italic">P</tspan> = 0.7</T>
        <T x={1636.1} y={703.3} s={18} ws={1}><tspan fontStyle="italic">r</tspan> = 0.02</T>
        <T x={1730.6} y={667.5} s={18} ws={1}><tspan fontStyle="italic">P</tspan> = 0.31</T>
        <T x={1735.7} y={703.3} s={18} ws={1}><tspan fontStyle="italic">r</tspan> = 0.05</T>
        <line x1={1293.9} x2={1376.7} y1={1146.9} y2={1146.9} stroke="#111" strokeWidth={1.2} />
        <line x1={1395.6} x2={1478.4} y1={1146.9} y2={1146.9} stroke="#111" strokeWidth={1.2} />
        <line x1={1586.9} x2={1669.7} y1={1152} y2={1152} stroke="#111" strokeWidth={1.2} />
        <line x1={1688.6} x2={1771} y1={1152} y2={1152} stroke="#111" strokeWidth={1.2} />
        <T x={1335.5} y={1179.7} a="middle">D0</T>
        <T x={1436} y={1179.7} a="middle">D1</T>
        <T x={1628.5} y={1179.7} a="middle">D0</T>
        <T x={1728.6} y={1179.7} a="middle">D1</T>

        {/* e */}
        <T x={217.9} y={1483.3} a="middle" c="#fff">42.45%</T>
        <T x={407} y={1532} a="middle">57.55%</T>
        <T x={420.7} y={1264.8}>Group 1</T>
        <T x={47.5} y={1302}>Group 2</T>
        <line x1={480.4} y1={1272.8} x2={420.7} y2={1321.3} stroke="#111" strokeWidth={2} />
        <line x1={102.5} y1={1318.4} x2={140} y2={1362.8} stroke="#111" strokeWidth={1.6} />

        {/* f */}
        <T x={926} y={1254.6} a="middle">Myc-bound</T>
        <T x={926} y={1287.5} a="middle">2C<Sup t="+" s={FS} after="-down genes" /></T>
        <T x={671.7} y={1489.5} a="middle" rot>Normalized expression</T>
        <T x={926.7} y={1747.5} a="middle">Cluster</T>
        <rect x={762.7} y={1304.6} width={327.3} height={370.8} fill="none" stroke="#111" strokeWidth={2.8} />
        <T x={771.7} y={1435.7} s={26} ws={1}><tspan fontStyle="italic">P</tspan> = 1.84 × 10<Sup t={'\u2212106'} s={26} k={0.68} /></T>
        <T x={827.3} y={1469} s={26} ws={1}><tspan fontStyle="italic">r</tspan> = 0.77</T>
        <T x={929.3} y={1336.8} s={26} ws={1}><tspan fontStyle="italic">P</tspan> = 0.99</T>
        <T x={933.3} y={1375.4} s={26} ws={1}><tspan fontStyle="italic">r</tspan> = 0.41</T>

        {/* g */}
        <T x={1217.8} y={1460} a="middle" rot>FC of</T>
        <T x={1250.6} y={1460.9} a="middle" rot>2C-like cell population</T>
        <T x={1547.8} y={1759} a="middle">Starting cells</T>
        <circle cx={1354.9} cy={1257} r={4.4} fill="#111" />
        <rect x={1478.4} y={1250.4} width={8.4} height={8.4} fill={SALMON} />
        <T x={1370} y={1262.9}>sgGFP</T>
        <T x={1498.2} y={1262.9}>sgMyc</T>
        <T x={1521.3} y={1303.6} s={26} ws={2}>3.79 × 10<Sup t={'\u22123'} s={26} /></T>
      </svg>
    </div>
  );
}
